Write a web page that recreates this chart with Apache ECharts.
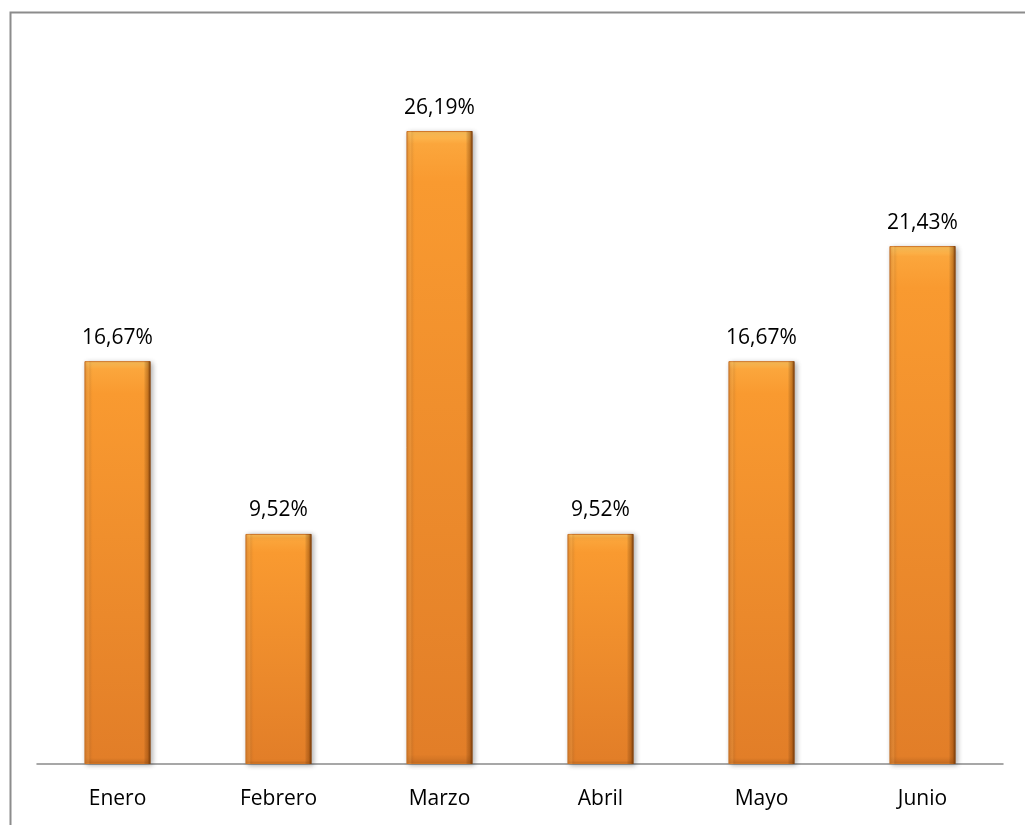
<!DOCTYPE html>
<html>
<head>
<meta charset="utf-8">
<script src="https://cdn.jsdelivr.net/npm/echarts@6/dist/echarts.min.js"></script>
<style>html,body{margin:0;padding:0;background:#fff}#c{width:1025px;height:825px}</style>
</head>
<body>
<div id="c"></div>
<script>
const categories = ['Enero', 'Febrero', 'Marzo', 'Abril', 'Mayo', 'Junio'];
const values = [16.67, 9.52, 26.19, 9.52, 16.67, 21.43];

const chart = echarts.init(document.getElementById('c'), null, {renderer: 'canvas'});
const font = 'Open Sans';
chart.setOption({
  animation: false,
  backgroundColor: '#ffffff',
  graphic: [{
    type: 'rect', left: 8, top: 10,
    shape: {width: 1100, height: 900},
    style: {fill: 'none', stroke: '#8c8c8c', lineWidth: 2},
    silent: true
  }],
  grid: {left: 37, right: 22, top: 39, bottom: 61, containLabel: false},
  xAxis: {
    type: 'category', data: categories,
    axisLine: {lineStyle: {color: '#8a8a8a', width: 1.5}},
    axisTick: {show: false},
    axisLabel: {color: '#000', fontFamily: font, fontSize: 21, margin: 25}
  },
  yAxis: {type: 'value', min: 0, max: 30, show: false, splitLine: {show: false}},
  series: [{
    type: 'bar', data: values, barWidth: 66,
    itemStyle: {
      color: new echarts.graphic.LinearGradient(0, 0, 0, 1, [
        {offset: 0, color: '#ffc45c'},
        {offset: 0.02, color: '#fba63c'},
        {offset: 0.08, color: '#f99a30'},
        {offset: 0.985, color: '#e27e28'},
        {offset: 1, color: '#c96e22'}
      ]),
      borderColor: '#cf7424', borderWidth: 1,
      shadowColor: 'rgba(0,0,0,0.3)', shadowBlur: 5, shadowOffsetX: 2, shadowOffsetY: 1
    },
    label: {
      show: true, position: 'top', distance: 13,
      color: '#000', fontFamily: font, fontSize: 21,
      formatter: p => p.value.toFixed(2).replace('.', ',') + '%'
    },
    z: 2
  }, {
    type: 'bar', data: values, barWidth: 66, barGap: '-100%',
    itemStyle: {
      color: new echarts.graphic.LinearGradient(0, 0, 1, 0, [
        {offset: 0, color: 'rgba(170,90,20,0.35)'},
        {offset: 0.06, color: 'rgba(255,200,120,0.15)'},
        {offset: 0.11, color: 'rgba(0,0,0,0)'},
        {offset: 0.9, color: 'rgba(0,0,0,0)'},
        {offset: 0.95, color: 'rgba(120,55,0,0.3)'},
        {offset: 1, color: 'rgba(80,35,0,0.75)'}
      ])
    },
    label: {show: false},
    silent: true,
    z: 3
  }]
});
</script>
</body>
</html>
